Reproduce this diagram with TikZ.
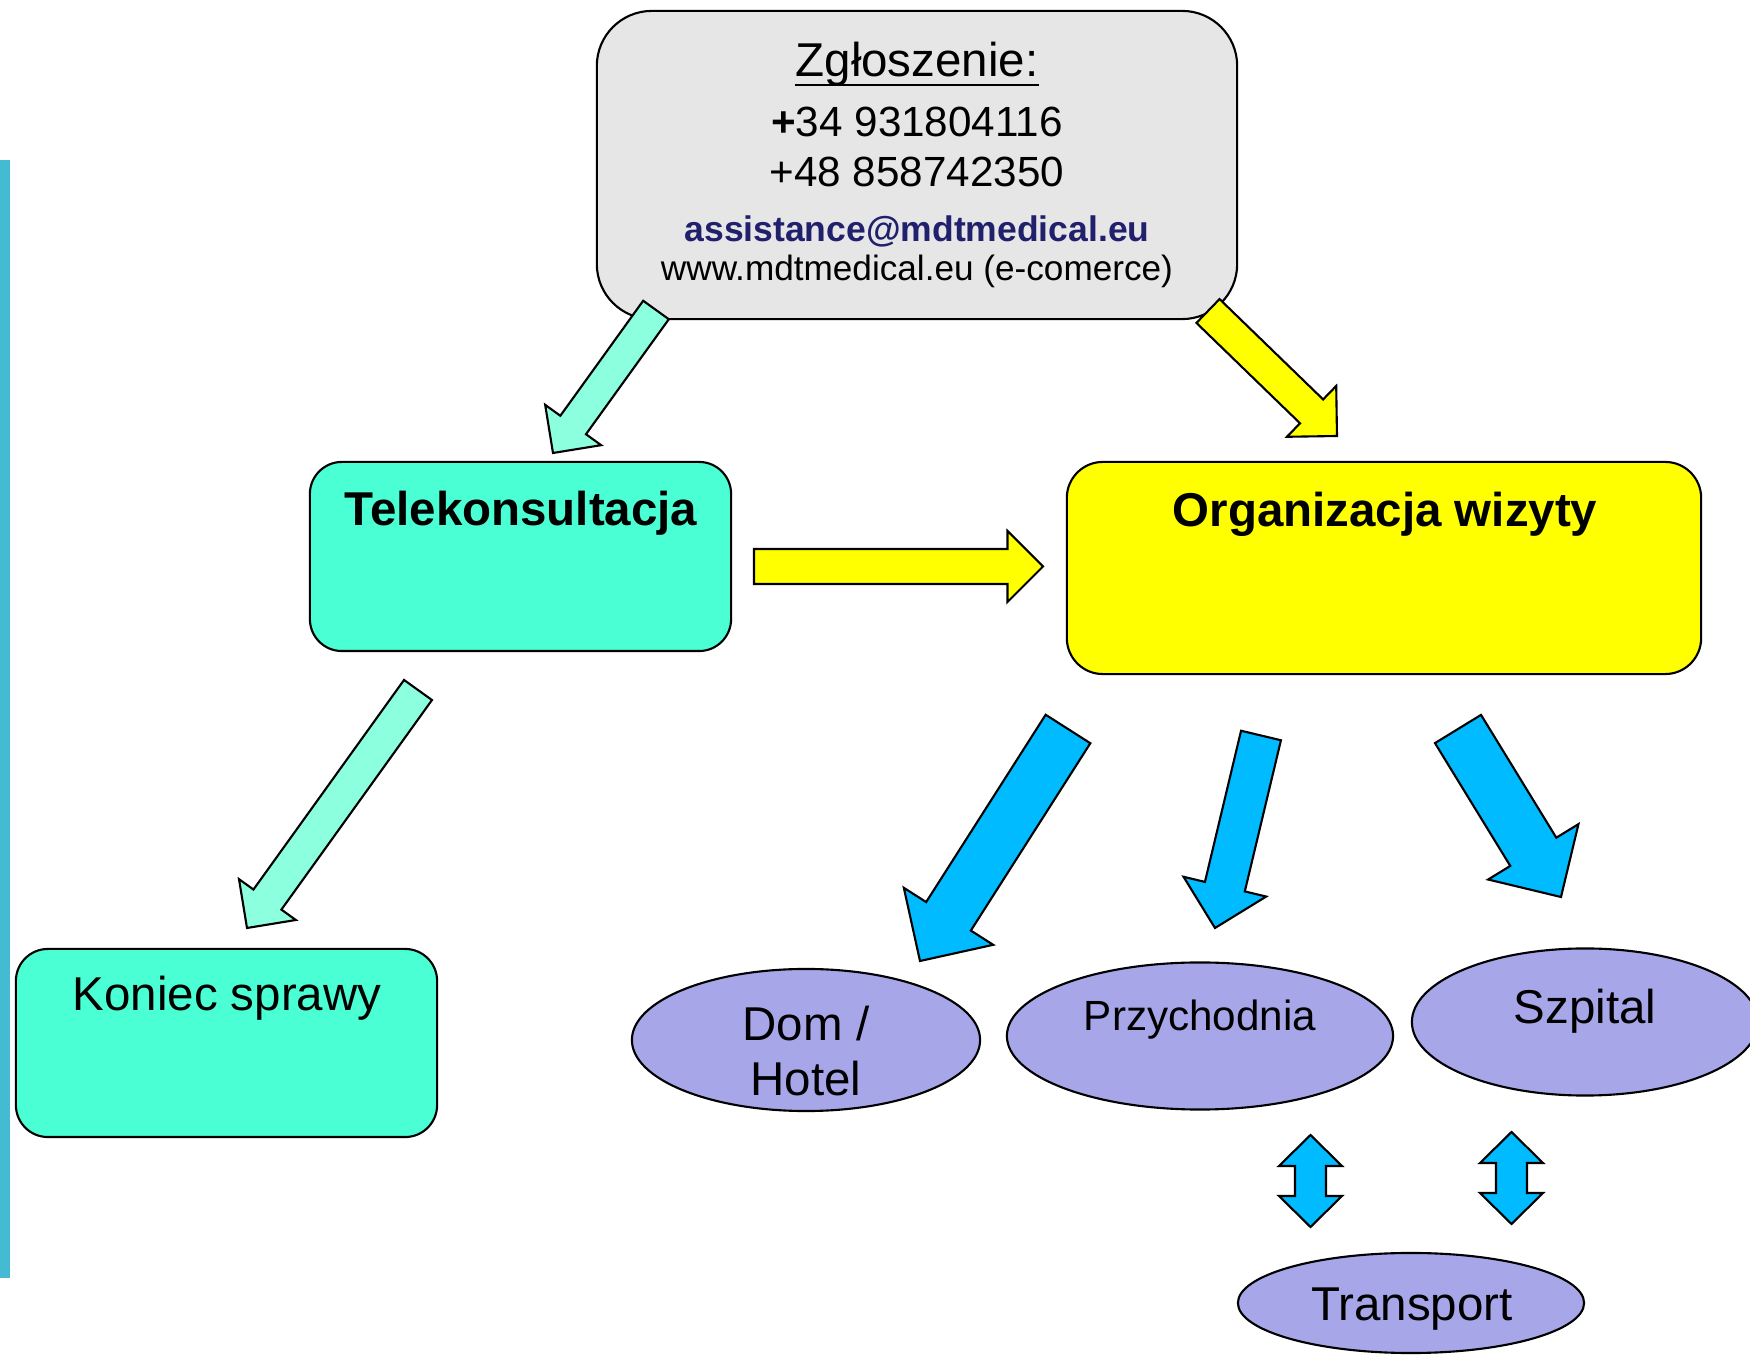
\documentclass[tikz,border=0pt]{standalone}
\usepackage{fontspec}
\setmainfont{Liberation Sans}
\usetikzlibrary{calc,shapes.geometric}

\definecolor{callgray}{HTML}{E6E6E6}
\definecolor{teleteal}{HTML}{4BFFD4}
\definecolor{arrowteal}{HTML}{8CFFDE}
\definecolor{visityellow}{HTML}{FFFF00}
\definecolor{arrowblue}{HTML}{00BBFF}
\definecolor{placelilac}{HTML}{A6A6E8}
\definecolor{sidebar}{HTML}{45BAD3}
\definecolor{mailnavy}{HTML}{20206C}

% block arrow: style, tail, tip, shaft half width, head half width (px)
\newcommand{\blockarrow}[5]{%
  \path (#2) coordinate (ba-tail) (#3) coordinate (ba-tip)
    ($(ba-tip)!#5*0.01cm!(ba-tail)$) coordinate (ba-base);
  \draw[#1] ($(ba-tail)!#4*0.01cm!90:(ba-tip)$)
    -- ($(ba-base)!#4*0.01cm!90:(ba-tip)$)
    -- ($(ba-base)!#5*0.01cm!90:(ba-tip)$)
    -- (ba-tip)
    -- ($(ba-base)!#5*0.01cm!-90:(ba-tip)$)
    -- ($(ba-base)!#4*0.01cm!-90:(ba-tip)$)
    -- ($(ba-tail)!#4*0.01cm!-90:(ba-tip)$) -- cycle;}

% up-down arrow, from its top tip (px)
\newcommand{\dblarrow}[2]{%
  \draw[arrowshape, fill=arrowblue] (#1,#2) -- ++(31.5,31) -- ++(-16,0)
    -- ++(0,30) -- ++(16,0) -- ++(-31.5,31) -- ++(-31.5,-31) -- ++(16,0)
    -- ++(0,-30) -- ++(-16,0) -- cycle;}

\begin{document}
\begin{tikzpicture}[x=0.01cm, y=-0.01cm,
    outline/.style={draw=black, line width=0.6pt},
    callbox/.style={outline, fill=callgray, rounded corners=0.55cm, inner sep=0pt},
    telebox/.style={outline, fill=teleteal, rounded corners=0.32cm, inner sep=0pt},
    visitbox/.style={outline, fill=visityellow, rounded corners=0.36cm, inner sep=0pt},
    placeoval/.style={outline, fill=placelilac, ellipse, inner sep=0pt},
    arrowshape/.style={outline, line join=miter},
    txt/.style={anchor=base, inner sep=0pt},
    bigtxt/.style={txt, font=\fontsize{13.5}{16}\selectfont},
    titletxt/.style={txt, font=\fontsize{13.5}{16}\selectfont\bfseries}]
    \useasboundingbox (0,0) rectangle (1750,1355);

    % side bar
    \fill[sidebar] (0,160) rectangle (10,1278);

    % boxes
    \node[callbox, minimum width=6.40cm, minimum height=3.08cm] (call) at (917,165) {};
    \node[telebox, minimum width=4.21cm, minimum height=1.89cm] (tele) at (520.5,556.5) {};
    \node[visitbox, minimum width=6.34cm, minimum height=2.12cm] (visit) at (1384,568) {};
    \node[telebox, minimum width=4.21cm, minimum height=1.88cm] (close) at (226.5,1043) {};

    % places
    \node[placeoval, minimum width=3.48cm, minimum height=1.42cm] (home) at (806,1040) {};
    \node[placeoval, minimum width=3.86cm, minimum height=1.47cm] (clinic) at (1200,1036) {};
    \node[placeoval, minimum width=3.46cm, minimum height=1.47cm] (hospital) at (1585,1022) {};
    \node[placeoval, minimum width=3.46cm, minimum height=1.00cm] (transport) at (1411,1303) {};

    % texts of the call box
    \node[bigtxt] (zg) at (917,77) {Zgłoszenie:};
    \draw[line width=0.6pt] ([yshift=-2.3pt]zg.base west) -- ([yshift=-2.3pt]zg.base east);
    \node[txt, font=\fontsize{12}{14}\selectfont] (phonees) at (917,137) {\textbf{+}34 931804116};
    \node[txt, font=\fontsize{12}{14}\selectfont] (phonepl) at (917,187) {+48 858742350};
    \node[txt, font=\fontsize{10.1}{12}\selectfont\bfseries, text=mailnavy] (mail) at (917,242) {assistance@mdtmedical.eu};
    \node[txt, font=\fontsize{10}{12}\selectfont] (web) at (917,281) {www.mdtmedical.eu (e-comerce)};

    % titles
    \node[titletxt] (teletitle) at (521,526) {Telekonsultacja};
    \node[titletxt] (visittitle) at (1385,527) {Organizacja wizyty};
    \node[bigtxt] (closetitle) at (227,1011) {Koniec sprawy};
    \node[bigtxt] (homeup) at (806,1041) {Dom /};
    \node[bigtxt] (homedown) at (806,1096) {Hotel};
    \node[txt, font=\fontsize{12}{14}\selectfont] (clinictitle) at (1200,1031) {Przychodnia};
    \node[bigtxt] (hospitaltitle) at (1585,1024) {Szpital};
    \node[bigtxt] (transporttitle) at (1412,1321) {Transport};

    % block arrows
    \blockarrow{arrowshape, fill=arrowteal}{656,310}{553,453}{15.8}{34.5}
    \blockarrow{arrowshape, fill=visityellow}{1208,311}{1337,436}{16.6}{35.4}
    \blockarrow{arrowshape, fill=visityellow}{754,566.5}{1043,566.5}{17.5}{35.5}
    \blockarrow{arrowshape, fill=arrowteal}{418,690}{247,928}{17.2}{35}
    \blockarrow{arrowshape, fill=arrowblue}{1068,729}{920,961}{26.5}{53}
    \blockarrow{arrowshape, fill=arrowblue}{1261,735.5}{1215,928}{20.5}{42.5}
    \blockarrow{arrowshape, fill=arrowblue}{1458,729}{1561,897}{27}{53}

    % transport links
    \dblarrow{1310.5}{1135}
    \dblarrow{1511.5}{1132}
\end{tikzpicture}
\end{document}
